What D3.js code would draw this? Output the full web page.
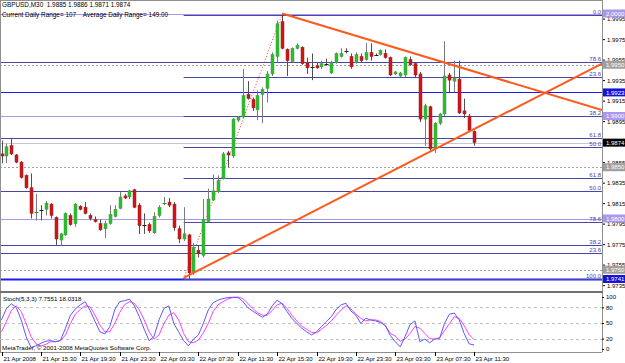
<!DOCTYPE html>
<html>
<head>
<meta charset="utf-8">
<script src="https://cdn.jsdelivr.net/npm/d3@7/dist/d3.min.js"></script>
<style>
  body { margin: 0; background: #fff; }
  svg text { font-family: "Liberation Sans", Arial, sans-serif; white-space: pre; }
</style>
</head>
<body>
<svg id="chart" width="625" height="363"></svg>
<script>
// GBPUSD M30, 21 Apr 11:30 .. 23 Apr 11:30 (97 bars)
const openP  = [1.9863,1.9861,1.9871,1.9862,1.9855,1.9842,1.9830,1.9805,1.9808,1.9809,
  1.9814,1.9801,1.9779,1.9784,1.9803,1.9795,1.9812,1.9811,1.9803,1.9799,
  1.9795,1.9790,1.9795,1.9802,1.9810,1.9822,1.9821,1.9828,1.9813,1.9795,
  1.9794,1.9786,1.9803,1.9814,1.9816,1.9814,1.9790,1.9780,1.9784,1.9747,
  1.9769,1.9764,1.9797,1.9818,1.9826,1.9839,1.9864,1.9861,1.9896,1.9899,
  1.9921,1.9916,1.9906,1.9921,1.9927,1.9941,1.9958,1.9992,1.9965,1.9953,
  1.9966,1.9967,1.9952,1.9948,1.9949,1.9948,1.9952,1.9942,1.9952,1.9958,
  1.9963,1.9958,1.9952,1.9958,1.9955,1.9962,1.9960,1.9960,1.9961,1.9957,
  1.9941,1.9939,1.9940,1.9955,1.9951,1.9941,1.9897,1.9909,1.9868,1.9893,
  1.9902,1.9940,1.9934,1.9936,1.9905,1.9900,1.9885];
const highP  = [1.9876,1.9873,1.9878,1.9863,1.9856,1.9843,1.9844,1.9824,1.9813,1.9817,
  1.9815,1.9802,1.9786,1.9806,1.9805,1.9815,1.9813,1.9816,1.9805,1.9802,
  1.9799,1.9798,1.9813,1.9813,1.9826,1.9824,1.9828,1.9829,1.9815,1.9805,
  1.9796,1.9806,1.9813,1.9821,1.9820,1.9816,1.9793,1.9811,1.9785,1.9776,
  1.9774,1.9819,1.9829,1.9843,1.9842,1.9865,1.9866,1.9898,1.9900,1.9946,
  1.9934,1.9918,1.9925,1.9928,1.9944,1.9962,1.9993,2.0000,1.9966,1.9967,
  1.9971,1.9968,1.9957,1.9961,1.9952,1.9954,1.9956,1.9954,1.9962,1.9966,
  1.9966,1.9961,1.9962,1.9961,1.9971,1.9971,1.9961,1.9965,1.9965,1.9958,
  1.9944,1.9943,1.9958,1.9958,1.9952,1.9943,1.9912,1.9910,1.9894,1.9903,
  1.9973,1.9942,1.9954,1.9954,1.9917,1.9902,1.9886];
const lowP   = [1.9854,1.9854,1.9862,1.9854,1.9839,1.9829,1.9800,1.9798,1.9798,1.9803,
  1.9800,1.9774,1.9774,1.9783,1.9793,1.9792,1.9808,1.9804,1.9798,1.9796,
  1.9788,1.9781,1.9794,1.9801,1.9809,1.9819,1.9819,1.9810,1.9785,1.9785,
  1.9786,1.9785,1.9801,1.9813,1.9811,1.9788,1.9776,1.9778,1.9741,1.9745,
  1.9762,1.9762,1.9796,1.9817,1.9825,1.9838,1.9850,1.9859,1.9894,1.9898,
  1.9916,1.9905,1.9896,1.9893,1.9913,1.9939,1.9952,1.9965,1.9939,1.9952,
  1.9965,1.9950,1.9941,1.9935,1.9946,1.9946,1.9949,1.9941,1.9951,1.9957,
  1.9961,1.9946,1.9951,1.9952,1.9954,1.9954,1.9959,1.9959,1.9956,1.9939,
  1.9940,1.9938,1.9938,1.9949,1.9937,1.9894,1.9871,1.9866,1.9864,1.9891,
  1.9900,1.9923,1.9923,1.9902,1.9898,1.9885,1.9871];
const closeP = [1.9861,1.9870,1.9863,1.9855,1.9840,1.9830,1.9805,1.9806,1.9808,1.9815,
  1.9803,1.9780,1.9785,1.9805,1.9794,1.9814,1.9809,1.9805,1.9800,1.9797,
  1.9789,1.9795,1.9804,1.9809,1.9821,1.9820,1.9827,1.9811,1.9793,1.9794,
  1.9788,1.9802,1.9811,1.9815,1.9813,1.9791,1.9780,1.9785,1.9747,1.9772,
  1.9766,1.9799,1.9819,1.9827,1.9837,1.9863,1.9862,1.9897,1.9899,1.9920,
  1.9917,1.9908,1.9920,1.9926,1.9941,1.9960,1.9990,1.9966,1.9954,1.9966,
  1.9969,1.9951,1.9947,1.9948,1.9947,1.9951,1.9951,1.9952,1.9961,1.9961,
  1.9963,1.9948,1.9960,1.9954,1.9962,1.9958,1.9960,1.9964,1.9957,1.9940,
  1.9943,1.9942,1.9957,1.9950,1.9940,1.9897,1.9910,1.9868,1.9893,1.9902,
  1.9939,1.9935,1.9937,1.9903,1.9902,1.9886,1.9874];

// Stoch(5,3,3): main (blue) and signal (magenta)
const stochMain = [56,78,87,80,56,24,3,6,11,15, 16,14,17,40,65,77,85,91,74,53,
  33,29,43,75,91,93,96,83,62,38, 16,24,56,78,83,49,33,16,6,19,
  27,49,75,89,94,97,99,99.5,99,92, 80,73,67,61,67,83,94,87,72,59,
  49,40,33,27,33,43,53,62,76,85, 88,73,65,49,59,56,54,51,45,26,
  14,4,24,47,54,14,19,12,19,20, 49,67,69,56,30,10,7.7551];
const stochSignal = [33,53,74,83,72,49,24,10,6,9, 14,14,16,27,49,67,76,83,81,65,
  46,33,33,49,70,85,91,88,75,56, 33,19,27,49,65,70,56,30,14,12,
  17,31,49,72,85,91,96,99,100,97, 88,78,70,65,65,74,85,88,78,65,
  54,44,38,32,31,38,45,54,65,75, 83,77,67,59,54,56,56,53,45,30,
  25,15,19,30,43,40,30,20,19,22, 35,49,62,59,45,28,18.0318];
const stochLevels = [80, 50, 20];
const stochAxis = [100, 80, 50, 20, 0];

const priceTicks = [1.9995,1.9975,1.9955,1.9935,1.9915,1.9895,1.9875,1.9855,1.9835,1.9815,1.9795,1.9775,1.9755,1.9735];
const timeLabels = ["21 Apr 2008","21 Apr 15:30","21 Apr 19:30","21 Apr 23:30","22 Apr 03:30","22 Apr 07:30",
  "22 Apr 11:30","22 Apr 15:30","22 Apr 19:30","22 Apr 23:30","23 Apr 03:30","23 Apr 07:30","23 Apr 11:30"];
const timeBars = [0,8,16,24,32,40,48,56,64,72,80,88,96];

// Fibonacci retracement drawn from the 22 Apr low to the high
const fibLevels = [0, 23.6, 38.2, 50, 61.8, 78.6, 100];
const fibAnchorBars = [37, 57];
const fibAnchorPrices = [1.9741, 1.9999];
// older fibonacci levels (anchors off screen)
const oldFibLabels = ["78.6","61.8","50.0","38.2","23.6"];
const oldFibPrices = [1.9953, 1.9879, 1.9827, 1.9774, 1.9766];

// horizontal lines with their price-scale tags
const hLinePrices = [2.0000, 1.9950, 1.9923, 1.9900, 1.9850, 1.9800, 1.9750, 1.9741];
const hLineKind   = ["round","pivot","level","round","pivot","round","pivot","level"];

// trend lines: [bar, price] pairs, extended to the right
const trendRise = [[37, 1.9742], [87, 1.9865]];
const trendFall = [[57, 2.0000], [77, 1.9971]];

const titleText = "GBPUSD,M30  1.9885 1.9886 1.9871 1.9874";
const rangeText = "Current Daily Range= 107    Average Daily Range= 149.00";
const stochText = "Stoch(5,3,3) 7.7551 18.0318";
const copyText = "MetaTrader, \u00a9 2001-2008 MetaQuotes Software Corp.";

const plotR = 602, mainBot = 291, stBot = 352;
const svg = d3.select("#chart");

const x = d3.scaleLinear().domain([0, 96]).range([1.5, 474]);
const y = d3.scaleLinear().domain([1.9730, 2.0000]).range([290.25, 13.5]);
const ys = d3.scaleLinear().domain([0, 100]).range([349, 297]);
const xEdge = x.invert(plotR);

svg.append("rect").attr("width", 625).attr("height", 363).attr("fill", "#fff");

svg.append("defs").append("clipPath").attr("id", "mainClip")
  .append("rect").attr("x", 0).attr("y", 0).attr("width", plotR).attr("height", mainBot);
svg.select("defs").append("clipPath").attr("id", "stClip")
  .append("rect").attr("x", 0).attr("y", 293).attr("width", plotR).attr("height", stBot - 293);

const main = svg.append("g").attr("clip-path", "url(#mainClip)");

const kindStyle = {
  round: { stroke: "#a898ee", dash: null, box: "#a898ee", txt: "#fff" },
  pivot: { stroke: "#a0a0a0", dash: "2,2", box: "#a0a0a0", txt: "#fff" },
  level: { stroke: "#1c1cf0", dash: null, box: "#1414d8", txt: "#fff" }
};

// horizontal lines
hLinePrices.forEach((p, i) => {
  const st = kindStyle[hLineKind[i]];
  main.append("line")
    .attr("x1", 0).attr("x2", plotR)
    .attr("y1", Math.round(y(p)) + 0.5).attr("y2", Math.round(y(p)) + 0.5)
    .attr("stroke", st.stroke).attr("stroke-width", hLineKind[i] == "level" && i == 7 ? 2 : 1)
    .attr("stroke-dasharray", st.dash);
});

// bid line
const bid = closeP[closeP.length - 1];
main.append("line").attr("x1", 0).attr("x2", plotR)
  .attr("y1", Math.round(y(bid)) + 0.5).attr("y2", Math.round(y(bid)) + 0.5)
  .attr("stroke", "#c8c8c8");

const fibColor = "#4646aa";

// old fibonacci levels, full width
oldFibPrices.forEach((p, i) => {
  const yy = Math.round(y(p)) + 0.5;
  main.append("line").attr("x1", 0).attr("x2", plotR).attr("y1", yy).attr("y2", yy)
    .attr("stroke", fibColor);
  main.append("text").attr("x", plotR - 1).attr("y", yy - 2)
    .attr("text-anchor", "end").attr("font-size", 6).attr("fill", fibColor)
    .text(oldFibLabels[i]);
});

// current fibonacci retracement
const fibHigh = fibAnchorPrices[1], fibLow = fibAnchorPrices[0];
fibLevels.forEach(l => {
  const p = fibHigh - (fibHigh - fibLow) * l / 100;
  const yy = Math.round(y(p)) + 0.5;
  main.append("line").attr("x1", x(fibAnchorBars[0])).attr("x2", plotR)
    .attr("y1", yy).attr("y2", yy).attr("stroke", fibColor);
  main.append("text").attr("x", plotR - 1).attr("y", yy - 2)
    .attr("text-anchor", "end").attr("font-size", 6).attr("fill", fibColor)
    .text(l.toFixed(1));
});
main.append("line")
  .attr("x1", x(fibAnchorBars[0])).attr("y1", y(fibAnchorPrices[0]))
  .attr("x2", x(fibAnchorBars[1])).attr("y2", y(fibAnchorPrices[1]))
  .attr("stroke", "#ff3030").attr("stroke-dasharray", "1,2");

// candles
const bars = main.append("g");
closeP.forEach((c, i) => {
  const o = openP[i], cx = Math.round(x(i)) + 0.5;
  const up = c > o, flat = Math.abs(c - o) < 0.00015;
  bars.append("line").attr("x1", cx).attr("x2", cx)
    .attr("y1", y(highP[i])).attr("y2", y(lowP[i]))
    .attr("stroke", up ? "#7a7a7a" : "#505050");
  if (flat) {
    bars.append("line").attr("x1", cx - 2).attr("x2", cx + 2)
      .attr("y1", Math.round(y(c)) + 0.5).attr("y2", Math.round(y(c)) + 0.5)
      .attr("stroke", up ? "#20a020" : "#202020");
  } else {
    const top = y(Math.max(o, c)), bot = y(Math.min(o, c));
    bars.append("rect").attr("x", cx - 1.5).attr("y", top)
      .attr("width", 3).attr("height", Math.max(1, bot - top))
      .attr("fill", up ? "#22c322" : "#d41414")
      .attr("stroke", up ? "#5c8c5c" : "#902020").attr("stroke-width", 0.5);
  }
});

// trend lines
function trendRay(pts) {
  const [a, b] = pts;
  const slope = (b[1] - a[1]) / (b[0] - a[0]);
  return [[a[0], a[1]], [xEdge, a[1] + slope * (xEdge - a[0])]];
}
[trendRise, trendFall].forEach(t => {
  const r = trendRay(t);
  main.append("line")
    .attr("x1", x(r[0][0])).attr("y1", y(r[0][1]))
    .attr("x2", x(r[1][0])).attr("y2", y(r[1][1]))
    .attr("stroke", "#ff5a1e").attr("stroke-width", 2);
});

// chart text
svg.append("text").attr("x", 2).attr("y", 7).attr("font-size", 6.4).attr("fill", "#000").text(titleText);
svg.append("text").attr("x", 2).attr("y", 17).attr("font-size", 6.4).attr("fill", "#000").text(rangeText);

// price axis
const pAxis = svg.append("g").attr("transform", `translate(${plotR},0)`)
  .call(d3.axisRight(y).tickValues(priceTicks).tickSize(3).tickPadding(2).tickFormat(d3.format(".4f")));
pAxis.select(".domain").remove();
pAxis.selectAll("text").attr("font-size", 6).attr("fill", "#000").style("font-family", "Liberation Sans, Arial");
pAxis.selectAll("line").attr("stroke", "#000");

// price tags
function tag(p, bg, fg) {
  const yy = y(p);
  svg.append("rect").attr("x", plotR + 1).attr("y", yy - 4).attr("width", 36).attr("height", 8).attr("fill", bg);
  svg.append("text").attr("x", plotR + 4).attr("y", yy + 2.2).attr("font-size", 6).attr("fill", fg)
    .text(d3.format(".4f")(p));
}
hLinePrices.forEach((p, i) => tag(p, kindStyle[hLineKind[i]].box, kindStyle[hLineKind[i]].txt));
tag(bid, "#000", "#fff");

// frame and separators
svg.append("line").attr("x1", plotR + 0.5).attr("x2", plotR + 0.5).attr("y1", 0).attr("y2", stBot)
  .attr("stroke", "#909090");
svg.append("line").attr("x1", 0.5).attr("x2", 0.5).attr("y1", 0).attr("y2", stBot).attr("stroke", "#909090");
svg.append("line").attr("x1", 0).attr("x2", plotR).attr("y1", 0.5).attr("y2", 0.5).attr("stroke", "#909090");
svg.append("rect").attr("x", 0).attr("y", mainBot).attr("width", plotR + 1).attr("height", 2).attr("fill", "#707070");
svg.append("line").attr("x1", 0).attr("x2", plotR).attr("y1", stBot + 0.5).attr("y2", stBot + 0.5).attr("stroke", "#909090");

// stochastic panel
const st = svg.append("g").attr("clip-path", "url(#stClip)");
stochLevels.forEach(v => {
  st.append("line").attr("x1", 0).attr("x2", plotR)
    .attr("y1", Math.round(ys(v)) + 0.5).attr("y2", Math.round(ys(v)) + 0.5)
    .attr("stroke", "#c0c0c0").attr("stroke-dasharray", "3,3");
});
const stLine = d3.line().x((d, i) => x(i)).y(d => ys(d));
st.append("path").datum(stochSignal).attr("d", stLine)
  .attr("fill", "none").attr("stroke", "#ff40ff").attr("stroke-width", 1);
st.append("path").datum(stochMain).attr("d", stLine)
  .attr("fill", "none").attr("stroke", "#5a5aff").attr("stroke-width", 1);
svg.append("text").attr("x", 3).attr("y", 301).attr("font-size", 6.2).attr("fill", "#000").text(stochText);
svg.append("text").attr("x", 2).attr("y", 350).attr("font-size", 6.2).attr("fill", "#000").text(copyText);

const sAxis = svg.append("g").attr("transform", `translate(${plotR},0)`)
  .call(d3.axisRight(ys).tickValues(stochAxis).tickSize(2).tickPadding(2));
sAxis.select(".domain").remove();
sAxis.selectAll("text").attr("font-size", 6).attr("fill", "#000").style("font-family", "Liberation Sans, Arial");

// time axis
const tAxis = svg.append("g").attr("transform", `translate(0,${stBot})`);
timeBars.forEach((b, i) => {
  const tx = Math.round(x(b)) + 0.5;
  tAxis.append("line").attr("x1", tx).attr("x2", tx).attr("y1", 0).attr("y2", 4).attr("stroke", "#000");
  tAxis.append("text").attr("x", tx + 1).attr("y", 9).attr("font-size", 6).attr("fill", "#000")
    .text(timeLabels[i]);
});
</script>
</body>
</html>
